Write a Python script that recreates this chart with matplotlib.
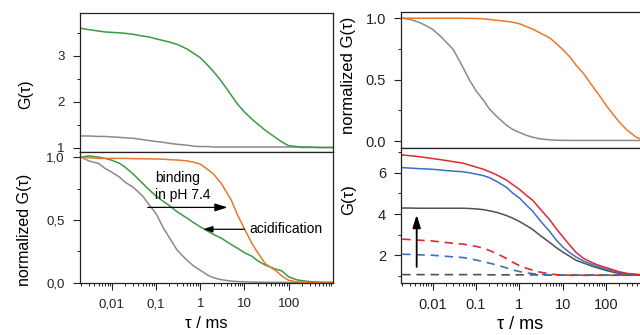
import matplotlib
matplotlib.use("Agg")
import matplotlib.pyplot as plt
from matplotlib.ticker import FixedLocator, FuncFormatter, LogLocator, NullFormatter

plt.rcParams['font.family'] = ['Liberation Sans', 'DejaVu Sans']
plt.rcParams['font.size'] = 9.5

# lag times (ms) used for all curves
tau = [0.002, 0.003, 0.005, 0.007, 0.01, 0.015, 0.02, 0.03, 0.05, 0.07,
       0.1, 0.15, 0.2, 0.3, 0.5, 0.7, 1, 1.5, 2, 3,
       5, 7, 10, 15, 20, 30, 50, 70, 100, 150,
       200, 300, 500, 700, 1000]

# left, top: raw autocorrelation
lt_green = [3.60, 3.57, 3.54, 3.52, 3.51, 3.50, 3.49, 3.47, 3.43, 3.41,
            3.37, 3.33, 3.30, 3.25, 3.15, 3.06, 2.96, 2.79, 2.66, 2.45,
            2.15, 1.95, 1.78, 1.62, 1.52, 1.38, 1.23, 1.13, 1.05, 1.03,
            1.02, 1.02, 1.01, 1.01, 1.01]
lt_gray = [1.26, 1.26, 1.25, 1.25, 1.24, 1.23, 1.22, 1.21, 1.18, 1.16,
           1.14, 1.12, 1.10, 1.08, 1.06, 1.04, 1.03, 1.03, 1.02, 1.02,
           1.02, 1.02, 1.02, 1.02, 1.02, 1.02, 1.02, 1.02, 1.02, 1.02,
           1.01, 1.01, 1.01, 1.01, 1.01]

# left, bottom: normalized
lb_orange = [1.0, 0.995, 0.99, 0.99, 0.99, 0.99, 0.99, 0.988, 0.987, 0.986,
             0.985, 0.983, 0.98, 0.977, 0.97, 0.96, 0.945, 0.90, 0.865, 0.79,
             0.66, 0.54, 0.43, 0.31, 0.24, 0.15, 0.10, 0.055, 0.02, 0.008,
             0.005, 0.002, 0.0, 0.0, 0.0]
lb_green = [1.0, 1.01, 1.0, 0.99, 0.975, 0.95, 0.92, 0.867, 0.79, 0.74,
            0.69, 0.645, 0.615, 0.565, 0.515, 0.48, 0.445, 0.41, 0.385, 0.355,
            0.305, 0.275, 0.24, 0.21, 0.175, 0.14, 0.11, 0.095, 0.048, 0.025,
            0.017, 0.01, 0.005, 0.004, 0.003]
lb_gray = [1.0, 0.97, 0.95, 0.91, 0.88, 0.84, 0.80, 0.762, 0.69, 0.62,
           0.55, 0.43, 0.36, 0.26, 0.18, 0.135, 0.10, 0.06, 0.04, 0.025,
           0.014, 0.01, 0.008, 0.006, 0.005, 0.004, 0.004, 0.004, 0.003, 0.003,
           0.003, 0.003, 0.003, 0.003, 0.003]

# right, top: normalized
rt_gray = [1.0, 0.99, 0.965, 0.94, 0.91, 0.855, 0.81, 0.745, 0.60, 0.50,
           0.41, 0.33, 0.265, 0.20, 0.13, 0.095, 0.07, 0.045, 0.032, 0.018,
           0.01, 0.007, 0.006, 0.005, 0.005, 0.005, 0.005, 0.005, 0.005, 0.005,
           0.005, 0.005, 0.005, 0.005, 0.005]
rt_orange = [1.0, 1.0, 1.0, 1.0, 1.0, 1.0, 1.0, 1.0, 0.999, 0.999,
             0.998, 0.995, 0.99, 0.983, 0.975, 0.967, 0.955, 0.93, 0.912, 0.88,
             0.84, 0.795, 0.745, 0.68, 0.62, 0.55, 0.44, 0.37, 0.29, 0.21,
             0.155, 0.09, 0.03, 0.01, 0.0]

# right, bottom: raw autocorrelation (solid) and reference curves (dashed)
rb_red = [6.87, 6.83, 6.78, 6.74, 6.69, 6.64, 6.60, 6.54, 6.47, 6.38,
          6.28, 6.17, 6.06, 5.90, 5.65, 5.43, 5.20, 4.88, 4.68, 4.25,
          3.72, 3.30, 2.90, 2.45, 2.15, 1.85, 1.62, 1.50, 1.40, 1.28,
          1.20, 1.12, 1.07, 1.05, 1.05]
rb_blue = [6.25, 6.23, 6.20, 6.19, 6.17, 6.14, 6.11, 6.08, 6.05, 6.00,
           5.94, 5.86, 5.77, 5.58, 5.30, 5.02, 4.78, 4.40, 4.15, 3.68,
           3.15, 2.75, 2.40, 2.10, 1.92, 1.72, 1.53, 1.42, 1.32, 1.22,
           1.16, 1.10, 1.06, 1.05, 1.04]
rb_dark = [4.29, 4.29, 4.28, 4.28, 4.28, 4.28, 4.28, 4.28, 4.28, 4.27,
           4.25, 4.21, 4.16, 4.08, 3.93, 3.80, 3.64, 3.42, 3.26, 2.96,
           2.62, 2.38, 2.15, 1.93, 1.76, 1.62, 1.45, 1.36, 1.26, 1.17,
           1.12, 1.08, 1.06, 1.05, 1.05]
rb_red_d = [2.78, 2.76, 2.73, 2.71, 2.69, 2.65, 2.62, 2.58, 2.54, 2.49,
            2.43, 2.34, 2.24, 2.08, 1.85, 1.66, 1.50, 1.36, 1.28, 1.18,
            1.10, 1.06, 1.04, 1.03, 1.03, 1.03, 1.03, 1.03, 1.03, 1.03,
            1.03, 1.03, 1.03, 1.03, 1.03]
rb_blue_d = [2.05, 2.04, 2.02, 2.01, 2.00, 1.97, 1.95, 1.92, 1.89, 1.83,
             1.77, 1.69, 1.62, 1.53, 1.39, 1.29, 1.21, 1.14, 1.11, 1.07,
             1.05, 1.04, 1.03, 1.03, 1.03, 1.03, 1.03, 1.03, 1.03, 1.03,
             1.03, 1.03, 1.03, 1.03, 1.03]
rb_dark_d = [1.06, 1.06, 1.06, 1.06, 1.06, 1.06, 1.06, 1.06, 1.06, 1.06,
             1.06, 1.06, 1.05, 1.05, 1.05, 1.05, 1.05, 1.05, 1.05, 1.05,
             1.04, 1.04, 1.04, 1.04, 1.04, 1.04, 1.04, 1.04, 1.04, 1.04,
             1.04, 1.04, 1.04, 1.04, 1.04]

xticks = [0.01, 0.1, 1, 10, 100]
xlabels_comma = ["0,01", "0,1", "1", "10", "100"]
xlabels_dot = ["0.01", "0.1", "1", "10", "100"]

GREEN = "#3c9a44"
ORANGE = "#e8782a"
GRAY = "#8a8a8a"
RED = "#dd2a2e"
BLUE = "#3b70c2"
DARK = "#505050"

fig = plt.figure(figsize=(6.4, 3.35), dpi=100)
ax_lt = fig.add_axes([0.125, 0.546, 0.395, 0.415])
ax_lb = fig.add_axes([0.125, 0.155, 0.395, 0.391])
ax_rt = fig.add_axes([0.627, 0.558, 0.388, 0.406])
ax_rb = fig.add_axes([0.627, 0.155, 0.388, 0.403])


def style(ax, labels=None, size=9.5):
    ax.set_xscale("log")
    ax.set_xlim(0.0019, 1000)
    ax.xaxis.set_major_locator(FixedLocator(xticks))
    ax.xaxis.set_minor_locator(LogLocator(base=10, subs=range(2, 10), numticks=20))
    ax.xaxis.set_minor_formatter(NullFormatter())
    if labels is None:
        ax.set_xticklabels([])
    else:
        ax.set_xticklabels(labels)
    ax.tick_params(which="major", direction="out", length=5, width=0.8, colors="#222", labelsize=size, pad=6)
    ax.tick_params(which="minor", direction="out", length=2.5, width=0.7, colors="#222")
    for s in ax.spines.values():
        s.set_linewidth(0.9)
        s.set_color("#222")


comma = FuncFormatter(lambda v, p: ("%.1f" % v).replace(".", ","))

# left top
style(ax_lt)
ax_lt.plot(tau, lt_gray, color=GRAY, lw=1.1)
ax_lt.plot(tau, lt_green, color=GREEN, lw=1.1)
ax_lt.set_ylim(0.91, 3.93)
ax_lt.yaxis.set_major_locator(FixedLocator([1, 2, 3]))
ax_lt.yaxis.set_minor_locator(FixedLocator([1.5, 2.5, 3.5]))
ax_lt.set_ylabel("G(τ)", fontsize=11.5)
ax_lt.yaxis.set_label_coords(-0.186, 0.417)

# left bottom
style(ax_lb, xlabels_comma)
ax_lb.plot(tau, lb_gray, color=GRAY, lw=1.1)
ax_lb.plot(tau, lb_green, color=GREEN, lw=1.1)
ax_lb.plot(tau, lb_orange, color=ORANGE, lw=1.1)
ax_lb.set_ylim(-0.002, 1.04)
ax_lb.yaxis.set_major_locator(FixedLocator([0, 0.5, 1.0]))
ax_lb.yaxis.set_minor_locator(FixedLocator([0.25, 0.75]))
ax_lb.yaxis.set_major_formatter(comma)
ax_lb.set_ylabel("normalized G(τ)", fontsize=11.5)
ax_lb.yaxis.set_label_coords(-0.19, 0.405)
ax_lb.set_xlabel("τ / ms", fontsize=12)
ax_lb.xaxis.set_label_coords(0.5, -0.25)
ax_lb.text(0.094, 0.83, "binding", fontsize=10, va="center")
ax_lb.text(0.094, 0.70, "in pH 7.4", fontsize=10, va="center")
ax_lb.annotate("", xy=(4.8, 0.60), xytext=(0.056, 0.60),
               arrowprops=dict(arrowstyle="-|>,head_length=0.8,head_width=0.25", color="black", lw=0.9))
ax_lb.annotate("", xy=(1.0, 0.426), xytext=(11.5, 0.426),
               arrowprops=dict(arrowstyle="-|>,head_length=0.6,head_width=0.2", color="black", lw=0.9))
ax_lb.text(13, 0.426, "acidification", fontsize=10, va="center")

# right top
style(ax_rt, size=10.5)
ax_rt.plot(tau, rt_gray, color=GRAY, lw=1.1)
ax_rt.plot(tau, rt_orange, color=ORANGE, lw=1.1)
ax_rt.set_ylim(-0.057, 1.05)
ax_rt.yaxis.set_major_locator(FixedLocator([0, 0.5, 1.0]))
ax_rt.yaxis.set_minor_locator(FixedLocator([0.25, 0.75]))
ax_rt.yaxis.set_major_formatter(FuncFormatter(lambda v, p: "%.1f" % v))
ax_rt.set_ylabel("normalized G(τ)", fontsize=12)
ax_rt.yaxis.set_label_coords(-0.181, 0.537)

# right bottom
style(ax_rb, xlabels_dot, size=10.5)
dash = (0, (5, 3.5))
ax_rb.plot(tau, rb_dark_d, color=DARK, lw=1.2, linestyle=dash)
ax_rb.plot(tau, rb_blue_d, color=BLUE, lw=1.2, linestyle=dash)
ax_rb.plot(tau, rb_red_d, color=RED, lw=1.2, linestyle=dash)
ax_rb.plot(tau, rb_dark, color=DARK, lw=1.1)
ax_rb.plot(tau, rb_blue, color=BLUE, lw=1.1)
ax_rb.plot(tau, rb_red, color=RED, lw=1.1)
ax_rb.set_ylim(0.65, 7.2)
ax_rb.yaxis.set_major_locator(FixedLocator([2, 4, 6]))
ax_rb.yaxis.set_minor_locator(FixedLocator([1, 3, 5, 7]))
ax_rb.set_ylabel("G(τ)", fontsize=12)
ax_rb.yaxis.set_label_coords(-0.181, 0.615)
ax_rb.set_xlabel("τ / ms", fontsize=13)
ax_rb.xaxis.set_label_coords(0.48, -0.245)
ax_rb.annotate("", xy=(0.0043, 4.1), xytext=(0.0043, 1.3),
               arrowprops=dict(arrowstyle="-|>,head_length=0.8,head_width=0.25", color="black", lw=1.3))

fig.savefig("out.png", dpi=100)
